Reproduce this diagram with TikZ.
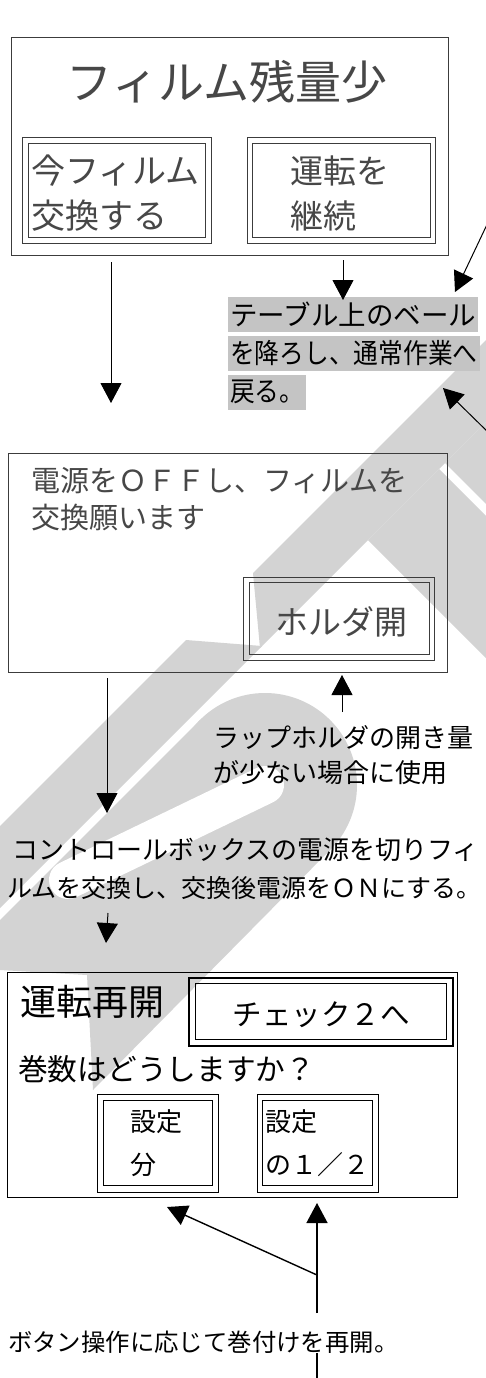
\documentclass[tikz,border=0pt]{standalone}
\usepackage{fontspec}
\usepackage{graphicx}
\usetikzlibrary{arrows.meta}
\newfontfamily\jp{Noto Sans CJK JP}
\newcommand\fsz[1]{\jp\fontsize{#1}{#1}\selectfont}
\definecolor{wm}{RGB}{211,211,211}
\definecolor{hl}{RGB}{196,196,196}
\definecolor{thin}{RGB}{60,60,60}
\begin{document}
\begin{tikzpicture}[x=1pt,y=-1pt,
  arr/.style={line width=1pt,-{Triangle[width=21pt,length=20pt]}},
  thinbox/.style={draw=thin,line width=0.8pt,inner sep=0pt,anchor=north west},
  boldbox/.style={draw=black,line width=1.3pt,inner sep=0pt,anchor=north west},
  txt/.style={inner sep=0pt,anchor=base west},
  thintxt/.style={inner sep=0pt,anchor=base west,text=black!72},
  hlrow/.style={fill=hl,inner xsep=2pt,inner ysep=0pt,minimum height=35pt,anchor=west},
]
\useasboundingbox (0,0) rectangle (486,1378);
\fill[white] (0,0) rectangle (486,1378);
% watermark
\fill[wm] (486,340) -- (486,422) -- (260,648) -- (253,573) -- cycle;
\fill[wm] (186,640) -- (262,646) -- (0,908) -- (0,826) -- cycle;
\fill[wm] (368,540) -- (439,469) -- (486,516) -- (486,658) -- cycle;
\fill[wm] (445,463) -- (486,422) -- (486,504) -- cycle;
\fill[wm] (265,785) circle[radius=92];
\fill[wm] (200,720) -- (330,850) -- (93,1090) -- (87,975) -- (0,970) -- (0,920) -- cycle;
\draw[white,line width=38pt,line cap=round] (265,785) -- (68,880);

% box 1
\node[thinbox,minimum width=437pt,minimum height=218pt] (box1) at (11,37) {};
\node[inner sep=0pt,anchor=base,text=black!72,font=\fsz{46}] (t1) at (227,100) {フィルム残量少};
\node[thinbox,minimum width=189pt,minimum height=106pt] (b1o) at (22,137) {};
\node[thinbox,minimum width=177pt,minimum height=94pt] (b1i) at (28,143) {};
\node[thintxt,font=\fsz{34}] (b1a) at (31,183) {今フィルム};
\node[thintxt,font=\fsz{34}] (b1b) at (31,228) {交換する};
\node[thinbox,minimum width=188pt,minimum height=106pt] (b2o) at (247,137) {};
\node[thinbox,minimum width=178pt,minimum height=94pt] (b2i) at (252,143) {};
\node[thintxt,font=\fsz{33}] (b2a) at (290,183) {運転を};
\node[thintxt,font=\fsz{33}] (b2b) at (290,228) {継続};

% highlighted text
\node[hlrow,font=\fsz{27.5}] (r1) at (228,314) {テーブル上のベール};
\node[hlrow,font=\fsz{27.5}] (r2) at (228,353) {\scalebox{0.9}[1]{を降ろし、通常作業へ}};
\node[hlrow,font=\fsz{27.5}] (r3) at (228,392) {\scalebox{0.9}[1]{戻る。}};

% box 2
\node[thinbox,minimum width=439pt,minimum height=219pt] (box2) at (8,453) {};
\node[thintxt,font=\fsz{29}] (c1) at (31,491) {電源をＯＦＦし、フィルムを};
\node[thintxt,font=\fsz{29}] (c2) at (31,528) {交換願います};
\node[thinbox,minimum width=191pt,minimum height=83pt] (hbo) at (243,577) {};
\node[thinbox,minimum width=180pt,minimum height=72pt] (hbi) at (249,582) {};
\node[inner sep=0pt,anchor=base,text=black!72,font=\fsz{33}] (hb) at (341,634) {ホルダ開};

% notes
\node[txt,font=\fsz{26}] (n1) at (213,747) {ラップホルダの開き量};
\node[txt,font=\fsz{26}] (n2) at (213,782) {が少ない場合に使用};
\node[txt,font=\fsz{26}] (k1) at (12,859.5) {コントロールボックスの電源を切りフィ};
\node[txt,font=\fsz{25}] (k2) at (7,897) {ルムを交換し、交換後電源をＯＮにする。};

% box 3
\node[boldbox,minimum width=450pt,minimum height=225pt] (box3) at (7,972) {};
\node[txt,font=\fsz{36}] (u1) at (20,1015) {運転再開};
\node[draw=black,line width=2pt,inner sep=0pt,anchor=north west,minimum width=264pt,minimum height=68pt] (cko) at (188,977) {};
\node[draw=black,line width=1.4pt,inner sep=0pt,anchor=north west,minimum width=251pt,minimum height=56pt] (cki) at (195,983) {};
\node[inner sep=0pt,anchor=base,font=\fsz{29.5}] (ck) at (321,1025) {チェック２へ};
\node[txt,font=\fsz{29.7}] (q) at (18,1080) {巻数はどうしますか？};
\node[boldbox,minimum width=121pt,minimum height=98pt] (s1o) at (97,1094) {};
\node[boldbox,minimum width=109pt,minimum height=85pt] (s1i) at (103,1100) {};
\node[txt,font=\fsz{26}] (s1a) at (130,1131.6) {設定};
\node[txt,font=\fsz{26}] (s1b) at (130,1174.6) {分};
\node[boldbox,minimum width=121pt,minimum height=98pt] (s2o) at (257,1094) {};
\node[boldbox,minimum width=110pt,minimum height=85pt] (s2i) at (262,1100) {};
\node[txt,font=\fsz{26}] (s2a) at (265,1131.6) {設定};
\node[txt,font=\fsz{26}] (s2b) at (265,1174.6) {の１／２};

\node[txt,font=\fsz{24.4}] (bt) at (8,1351) {ボタン操作に応じて巻付けを再開。};

% connector end points
\coordinate (a1s) at (111,262); \coordinate (a1e) at (111,403);
\coordinate (a2s) at (343,260); \coordinate (a2e) at (343,300);
\coordinate (a3s) at (492,214); \coordinate (a3e) at (455,292);
\coordinate (a4s) at (492,436); \coordinate (a4e) at (443,388);
\coordinate (a5s) at (107,678); \coordinate (a5e) at (107,813);
\coordinate (a6s) at (342,712); \coordinate (a6e) at (342,675);
\coordinate (a7s) at (108,913); \coordinate (a7e) at (106,943);
\coordinate (a8s) at (317,1313); \coordinate (a8e) at (317,1203);
\coordinate (junc) at (317,1275); \coordinate (a9e) at (167,1207);
\coordinate (l1s) at (317,1353); \coordinate (l1e) at (317,1382);

\draw[arr] (a1s) -- (a1e);
\draw[arr] (a2s) -- (a2e);
\draw[arr] (a3s) -- (a3e);
\draw[arr] (a4s) -- (a4e);
\draw[arr] (a5s) -- (a5e);
\draw[arr] (a6s) -- (a6e);
\draw[arr] (a7s) -- (a7e);
\draw[arr,line width=1.4pt] (a8s) -- (a8e);
\draw[arr,line width=1.4pt] (junc) -- (a9e);
\draw[line width=1.4pt] (l1s) -- (l1e);
\end{tikzpicture}
\end{document}
